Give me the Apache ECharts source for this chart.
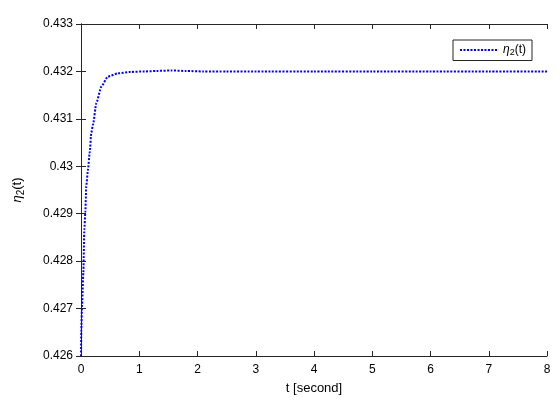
<!DOCTYPE html>
<html>
<head>
<meta charset="utf-8">
<script src="https://cdn.jsdelivr.net/npm/echarts@6/dist/echarts.min.js"></script>
<style>
  html, body { margin: 0; padding: 0; background: #fff; }
</style>
</head>
<body>
<div id="chart" style="width: 560px; height: 404px"></div>
<script>
// time samples (seconds) and eta_2 response
const times = [0, 0.005, 0.017, 0.04, 0.057, 0.074, 0.09, 0.12, 0.149, 0.177, 0.206, 0.263, 0.349, 0.46, 0.635, 0.85, 1.09, 1.3, 1.55, 1.8, 2.1, 2.5, 3, 4, 5, 6, 7, 8];
const eta2 = [0.426, 0.42655, 0.42704, 0.42775, 0.42866, 0.42903, 0.42958, 0.42993, 0.43029, 0.43071, 0.43088, 0.43133, 0.43168, 0.43189, 0.43196, 0.43199, 0.432, 0.43201, 0.43202, 0.43201, 0.432, 0.432, 0.432, 0.432, 0.432, 0.432, 0.432, 0.432];
const seriesName = "eta2";

const font = "Liberation Sans, Arial, sans-serif";
const axisColor = "#262626";

const myChart = echarts.init(document.getElementById("chart"));

const boxAxis = {
  axisLine: { show: true, lineStyle: { color: axisColor, width: 1 } },
  axisTick: { show: true, inside: true, length: 5, lineStyle: { color: axisColor } },
  splitLine: { show: false }
};

const option = {
  animation: false,
  grid: { left: 81, right: 13, top: 24, bottom: 48 },
  legend: {
    right: 28,
    top: 40,
    orient: "vertical",
    borderColor: axisColor,
    borderWidth: 1,
    padding: [4, 6, 3, 6],
    itemWidth: 38,
    itemHeight: 10,
    itemGap: 4,
    data: [seriesName],
    itemStyle: { opacity: 0 },
    formatter: () => "{i|η}{s|2}(t)",
    textStyle: {
      fontFamily: font,
      fontSize: 12,
      color: "#000",
      rich: {
        i: { fontStyle: "italic", fontSize: 12, fontFamily: font },
        s: { fontSize: 9, verticalAlign: "bottom", padding: [6, 0, 0, 0], fontFamily: font }
      }
    }
  },
  xAxis: [
    {
      type: "value",
      min: 0,
      max: 8,
      interval: 1,
      name: "t [second]",
      nameLocation: "middle",
      nameGap: 26,
      nameTextStyle: { fontFamily: font, fontSize: 13, color: "#000" },
      axisLabel: { fontFamily: font, fontSize: 12, color: "#000", margin: 8 },
      ...boxAxis
    },
    {
      type: "value",
      position: "top",
      min: 0,
      max: 8,
      interval: 1,
      axisLabel: { show: false },
      ...boxAxis
    }
  ],
  yAxis: [
    {
      type: "value",
      min: 0.426,
      max: 0.433,
      interval: 0.001,
      name: "{i|η}{s|2}(t)",
      nameLocation: "middle",
      nameGap: 55,
      nameRotate: 90,
      nameTextStyle: {
        fontFamily: font,
        fontSize: 13,
        color: "#000",
        rich: {
          i: { fontStyle: "italic", fontSize: 13, fontFamily: font },
          s: { fontSize: 10, verticalAlign: "bottom", padding: [7, 0, 0, 0], fontFamily: font }
        }
      },
      axisLabel: { fontFamily: font, fontSize: 12, color: "#000", margin: 8 },
      ...boxAxis
    },
    {
      type: "value",
      position: "right",
      min: 0.426,
      max: 0.433,
      interval: 0.001,
      axisLabel: { show: false },
      ...boxAxis
    }
  ],
  series: [
    {
      name: seriesName,
      type: "line",
      smooth: 0.2,
      smoothMonotone: "x",
      symbol: "none",
      itemStyle: { color: "#0000ff" },
      lineStyle: { color: "#0000ff", width: 2, type: [2, 1.5] },
      data: times.map((t, i) => [t, eta2[i]])
    }
  ]
};

myChart.setOption(option);
</script>
</body>
</html>
